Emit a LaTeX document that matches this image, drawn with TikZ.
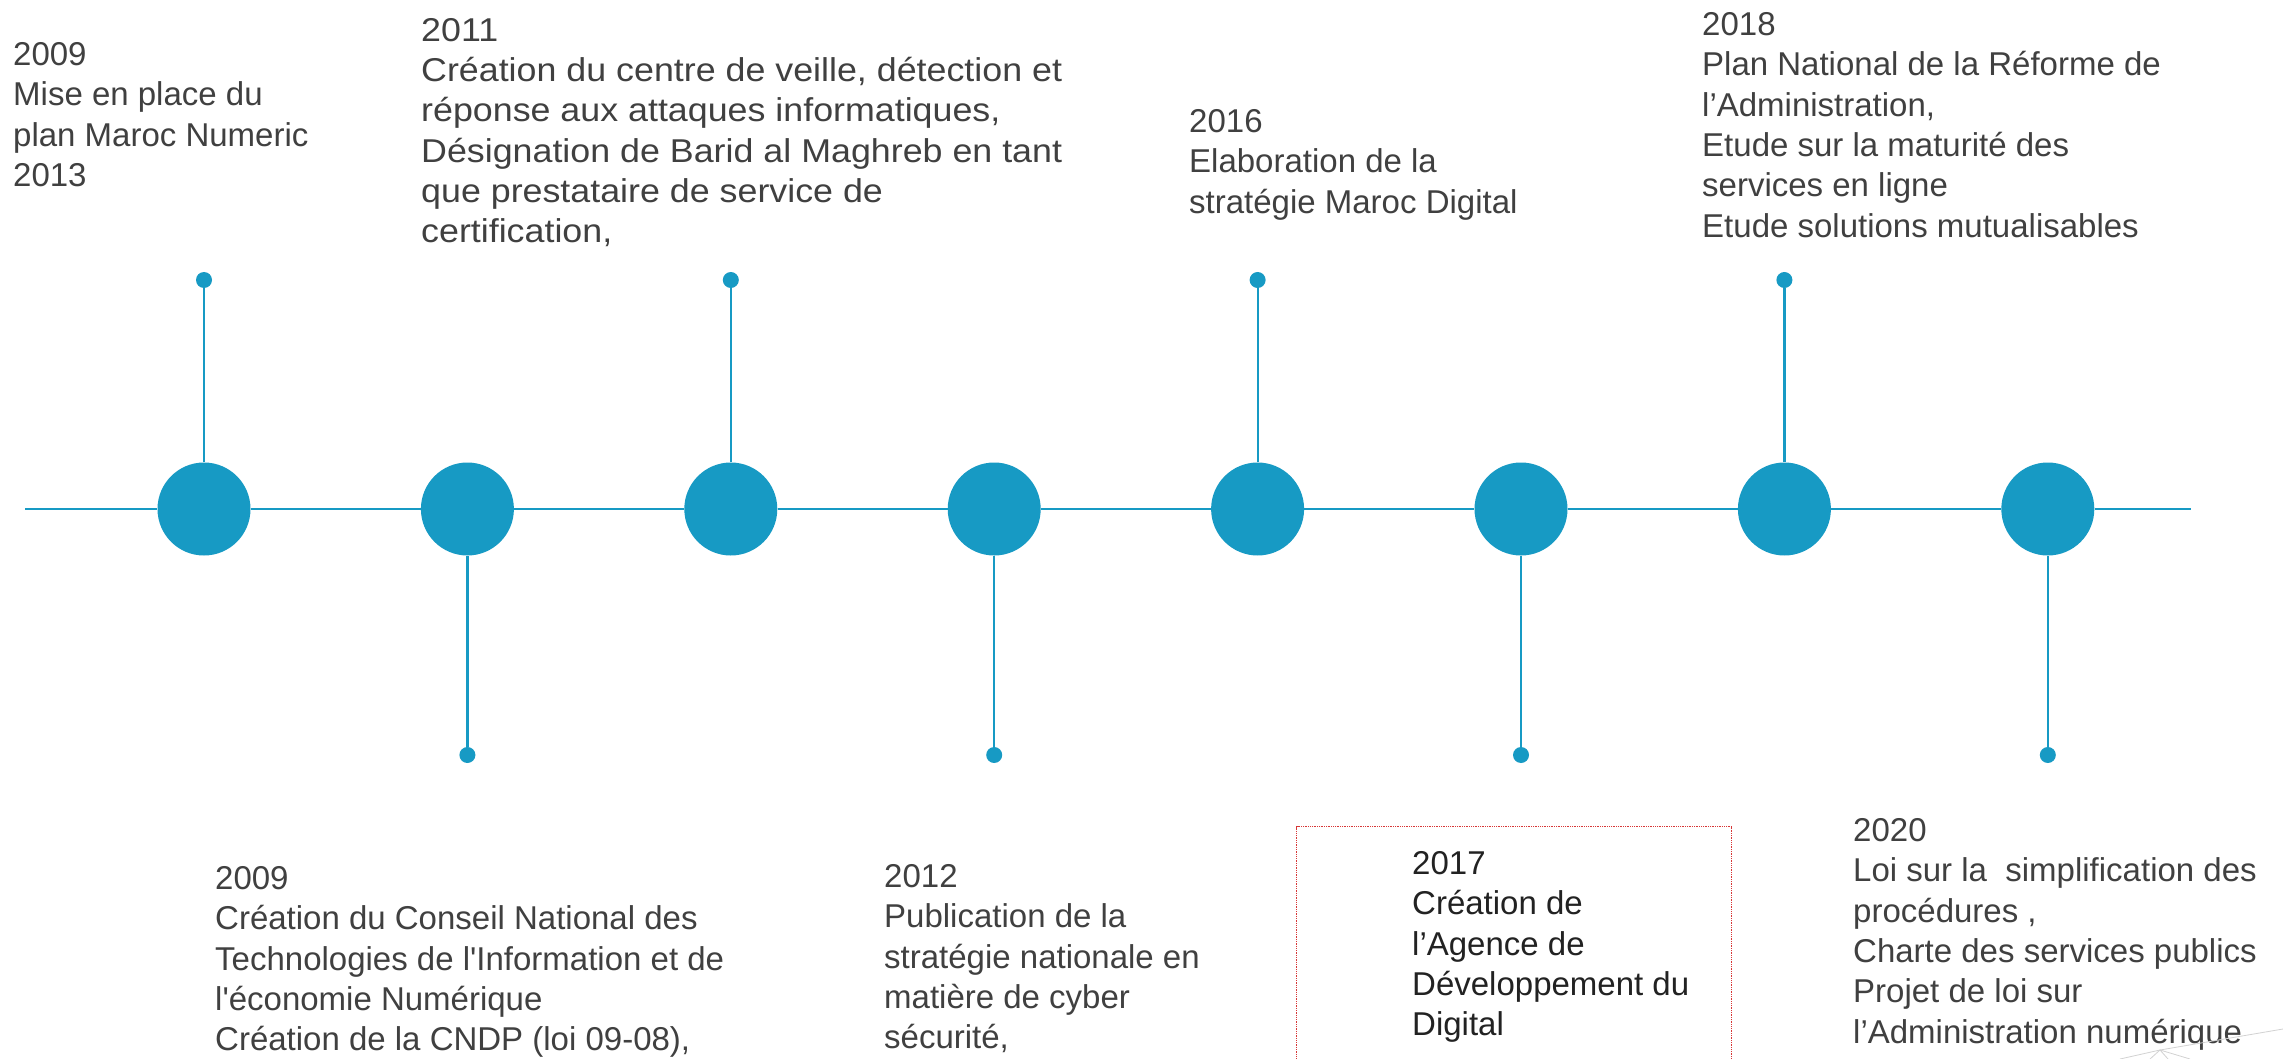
\documentclass[tikz,border=0pt]{standalone}
\usepackage{fontspec}
\setmainfont{Liberation Sans}[Ligatures=TeXOff]
\definecolor{tlblue}{RGB}{23,154,196}
\definecolor{txtgray}{RGB}{64,64,64}
\definecolor{boxtxt}{RGB}{34,34,34}
\definecolor{boxred}{RGB}{215,55,55}
\begin{document}
\begin{tikzpicture}[x=1pt,y=-1pt,
  bigdot/.style={circle,fill=tlblue,draw=none,minimum size=93pt,inner sep=0pt},
  smalldot/.style={circle,fill=tlblue,draw=none,minimum size=16pt,inner sep=0pt},
  link/.style={draw=tlblue,line width=2.2pt},
  evlabel/.style={anchor=north west,inner sep=0pt,align=left,text=txtgray,font=\fontsize{33}{40.4}\selectfont},
  widelabel/.style={evlabel,font=\fontsize{33}{40.3}\selectfont\addfontfeature{FakeStretch=1.085}},
  hilabel/.style={evlabel,text=boxtxt},
  hibox/.style={draw=boxred,densely dotted,line width=1.3pt,anchor=north west,minimum width=435pt,minimum height=260pt,inner sep=0pt},
  faint/.style={draw=gray!35,line width=0.8pt}
  ]
\useasboundingbox (0,0) rectangle (2283,1059);
\fill[white] (0,0) rectangle (2283,1059);

% timeline
\coordinate (L) at (25,509);
\coordinate (R) at (2191,509);
\foreach \i/\x in {1/204,2/467.4,3/730.8,4/994.2,5/1257.6,6/1521,7/1784.4,8/2047.8}{
  \node[bigdot] (c\i) at (\x,509) {};
}
\foreach \i/\x in {1/204,3/730.8,5/1257.6,7/1784.4}{
  \node[smalldot] (d\i) at (\x,280) {};
}
\foreach \i/\x in {2/467.4,4/994.2,6/1521,8/2047.8}{
  \node[smalldot] (d\i) at (\x,755) {};
}
\draw[link] (L) -- (c1);
\foreach \a/\b in {1/2,2/3,3/4,4/5,5/6,6/7,7/8}{
  \draw[link] (c\a) -- (c\b);
}
\draw[link] (c8) -- (R);
\foreach \i in {1,...,8}{
  \draw[link] (c\i) -- (d\i);
}

% labels above
\node[evlabel] (t1) at (13,42) {2009\\Mise en place du\\plan Maroc Numeric\\2013};
\node[widelabel] (t3) at (421,18) {2011\\Création du centre de veille, détection et\\réponse aux attaques informatiques,\\Désignation de Barid al Maghreb en tant\\que prestataire de service de\\certification,};
\node[evlabel] (t5) at (1189,109) {2016\\Elaboration de la\\stratégie Maroc Digital};
\node[evlabel] (t7) at (1702,12) {2018\\Plan National de la Réforme de\\l’Administration,\\Etude sur la maturité des\\services en ligne\\Etude solutions mutualisables};

% labels below
\node[evlabel] (t2) at (215,866) {2009\\Création du Conseil National des\\Technologies de l'Information et de\\l'économie Numérique\\Création de la CNDP (loi 09-08),};
\node[evlabel] (t4) at (884,864) {2012\\Publication de la\\stratégie nationale en\\matière de cyber\\sécurité,};
\node[hibox] (box) at (1296,826) {};
\node[hilabel] (t6) at (1412,851) {2017\\Création de\\l’Agence de\\Développement du\\Digital};
\node[evlabel] (t8) at (1853,818) {2020\\Loi sur la~ simplification des\\procédures ,\\Charte des services publics\\Projet de loi sur\\l’Administration numérique};

% faint cut-off strokes at lower right
\coordinate (f0) at (2160,1050);
\coordinate (f1) at (2283,1029);
\coordinate (f2) at (2120,1059);
\coordinate (f3) at (2150,1059);
\coordinate (f4) at (2168,1059);
\coordinate (f5) at (2190,1059);
\draw[faint] (f0) -- (f1);
\draw[faint] (f0) -- (f2);
\draw[faint] (f0) -- (f3);
\draw[faint] (f0) -- (f4);
\draw[faint] (f0) -- (f5);
\end{tikzpicture}
\end{document}
